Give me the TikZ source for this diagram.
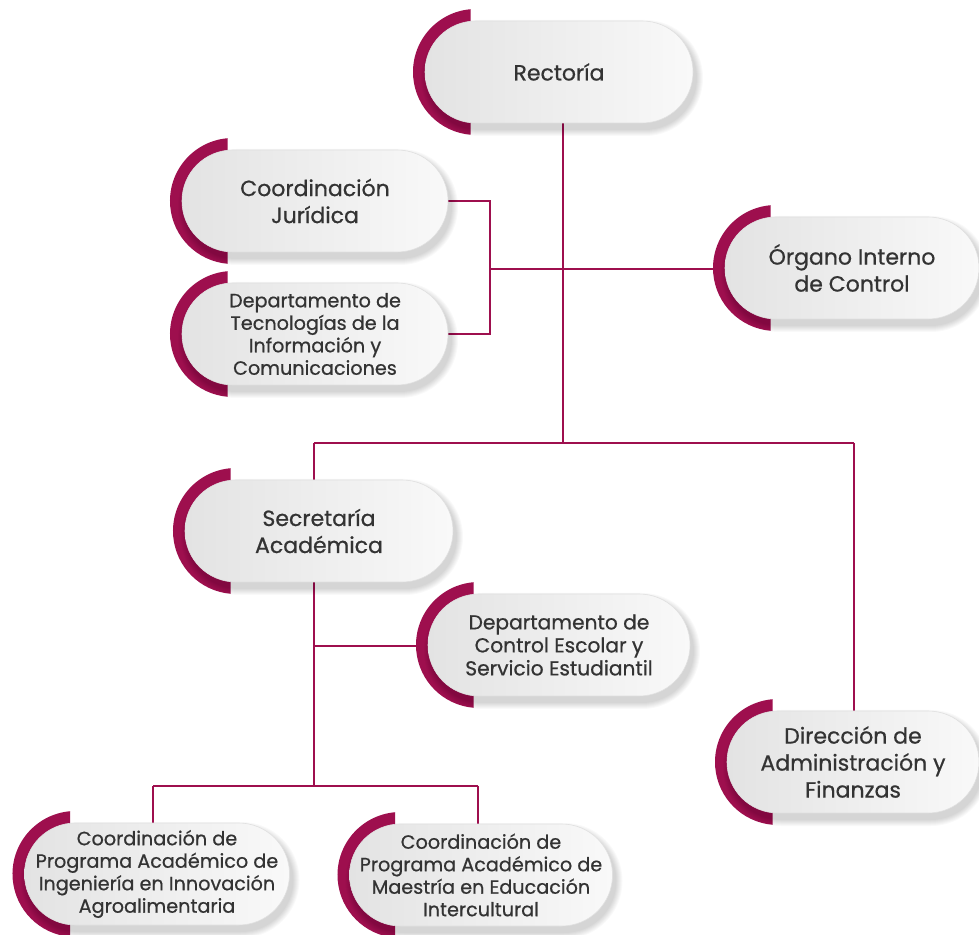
\documentclass[tikz,border=0pt]{standalone}
\usepackage{fontspec}
\setmainfont{Poppins}[FakeBold=0.7]
\usetikzlibrary{calc}
\definecolor{guinda}{HTML}{9E0F4E}
\definecolor{txt}{HTML}{333333}
\definecolor{pillL}{HTML}{E3E3E3}
\definecolor{pillR}{HTML}{F9F9F9}
\tikzset{
  pill/.style={rectangle, rounded corners=50.9pt, minimum height=102pt, inner sep=0pt,
    left color=pillL, right color=pillR, draw=white!88!black, line width=0.6pt,
    text=txt, align=center},
  big/.style={font=\fontsize{22}{27}\selectfont},
  small/.style={font=\fontsize{19.2}{22.5}\selectfont},
  mid/.style={font=\fontsize{20.2}{23}\selectfont},
  link/.style={draw=guinda, line width=1.7pt},
}
\newcommand{\orgbox}[6]{%
  \pgfmathsetmacro\yy{934-#3}%
  \pgfmathsetmacro\lx{#2-#4/2+51}%
  \pgfmathsetmacro\xa{#2-#4/2}%
  \pgfmathsetmacro\xb{#2+#4/2}%
  \fill[guinda] (\lx-5.5, \yy+62.76) arc[start angle=95, end angle=265, radius=63pt] -- cycle;
  \foreach \k in {1,...,7}{%
    \fill[black, opacity=0.022, rounded corners={(51+\k)*1pt}]
      (\xa+3-\k, \yy-6-51-\k) rectangle (\xb+3+\k, \yy-6+51+\k);
  }%
  \node[pill, minimum width=#4pt, #6] (#1) at (#2,\yy) {#5};
}
\begin{document}
\begin{tikzpicture}[x=1pt,y=1pt]
\useasboundingbox[fill=white] (0,0) rectangle (979,934);

% connector coordinates
\coordinate (v1) at (563,491);     % bottom of Rectoria trunk (y=443)
\coordinate (sb) at (563,665);     % staff bus junction (y=269)
\coordinate (sl) at (490,665);
\coordinate (bl) at (314,491);
\coordinate (br) at (854,491);
\coordinate (sd) at (314,148);     % y=786
\coordinate (dl) at (153,148);
\coordinate (dr) at (478,148);

% connectors
\draw[link] (559,812) coordinate (rtop) -| (v1);
\draw[link] (sl) -- (sb) -- (725,665) coordinate (orgL);
\draw[link] (448,733) coordinate (jurR) -| (sl) |- (448,600) coordinate (tiR);
\draw[link] (bl) -- (br);
\draw[link] (bl) -- (314,454) coordinate (secT);
\draw[link] (br) -- (854,222) coordinate (dirT);
\draw[link] (314,352) coordinate (secB) -- (sd);
\draw[link] (314,288) coordinate (ctrlJ) -- (428,288) coordinate (ctrlL);
\draw[link] (dl) -- (dr);
\draw[link] (dl) -- (153,109) coordinate (ingT);
\draw[link] (dr) -- (478,109) coordinate (maeT);

% nodes
\orgbox{rect}{559}{72}{268}{Rectoría}{big}
\orgbox{jur}{315}{201}{266}{Coordinación\\Jurídica}{big}
\orgbox{ti}{315}{334}{266}{Departamento de\\Tecnologías de la\\Información y\\Comunicaciones}{small}
\orgbox{org}{852}{268}{254}{Órgano Interno\\de Control}{big}
\orgbox{sec}{319}{531}{268}{Secretaría\\Académica}{big}
\orgbox{ctrl}{559}{645}{262}{Departamento de\\Control Escolar y\\Servicio Estudiantil}{mid}
\orgbox{dir}{853}{762}{252}{Dirección de\\Administración y\\Finanzas}{big}
\orgbox{ing}{157}{874}{265}{Coordinación de\\Programa Académico de\\Ingeniería en Innovación\\Agroalimentaria}{small}
\orgbox{mae}{481}{875}{263}{Coordinación de\\Programa Académico de\\Maestría en Educación\\Intercultural}{small}
\end{tikzpicture}
\end{document}
